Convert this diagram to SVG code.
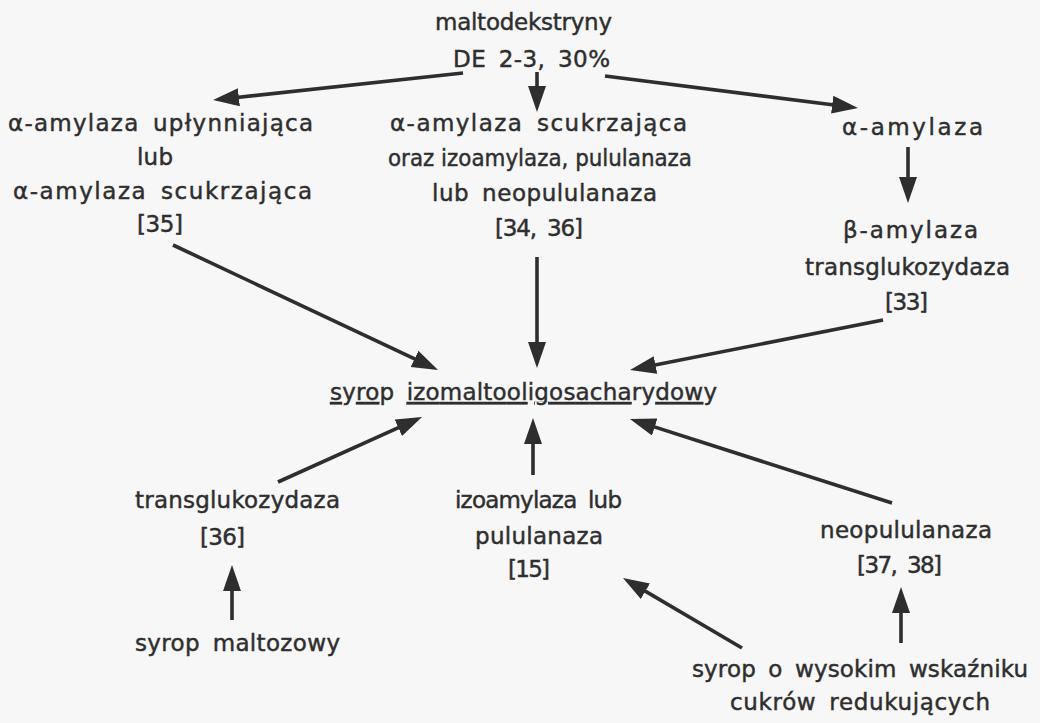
<svg xmlns="http://www.w3.org/2000/svg" width="1040" height="723" viewBox="0 0 1040 723">
<style>
  text { font-family: "DejaVu Sans", "Liberation Sans", sans-serif; font-size: 23px; fill: #2e2e2e; stroke: #2e2e2e; stroke-width: 0.45; text-anchor: middle; word-spacing: 5px; }
  .tight { word-spacing: 0; }
  .u { text-decoration: underline; }
  .conn line { stroke: #2e2e2e; stroke-width: 3.6; fill: none; marker-end: url(#ah); }
</style>
<defs>
  <marker id="ah" markerUnits="userSpaceOnUse" markerWidth="28" markerHeight="20" refX="16" refY="9" orient="auto">
    <path d="M0,0 L26,9 L0,18 Z" fill="#2e2e2e"/>
  </marker>
</defs>
<rect x="0" y="0" width="1040" height="723" fill="#f7f7f7"/>

<g id="maltodekstryny">
  <text x="523.5" y="30" textLength="177">maltodekstryny</text>
  <text x="531.5" y="67" textLength="157">DE 2-3, 30%</text>
</g>

<g id="left-top">
  <text x="160.5" y="131" textLength="305">α-amylaza upłynniająca</text>
  <text x="155" y="165" textLength="36">lub</text>
  <text x="162.5" y="199" textLength="299">α-amylaza scukrzająca</text>
  <text x="160" y="232" textLength="46">[35]</text>
</g>

<g id="center-top">
  <text x="538.5" y="131" textLength="297">α-amylaza scukrzająca</text>
  <text class="tight" x="540" y="166" textLength="304" lengthAdjust="spacingAndGlyphs">oraz izoamylaza, pululanaza</text>
  <text x="544.5" y="201" textLength="225">lub neopululanaza</text>
  <text x="539" y="236" textLength="88">[34, 36]</text>
</g>

<g id="alpha-amylaza">
  <text x="912.5" y="135" textLength="141">α-amylaza</text>
</g>

<g id="beta-amylaza">
  <text x="910.5" y="238" textLength="135">β-amylaza</text>
  <text x="907.5" y="275" textLength="205">transglukozydaza</text>
  <text x="906.5" y="310" textLength="43">[33]</text>
</g>

<g id="syrop-izomaltooligosacharydowy">
  <text x="523.5" y="400" textLength="387"><tspan class="u">s</tspan>y<tspan class="u">ro</tspan>p <tspan class="u">izomaltool</tspan>i<tspan class="u">gosacha</tspan>ry<tspan class="u">dow</tspan>y</text>
</g>

<g id="transglukozydaza">
  <text x="237.5" y="508" textLength="205">transglukozydaza</text>
  <text x="222.5" y="545" textLength="45">[36]</text>
</g>

<g id="syrop-maltozowy">
  <text x="237.5" y="651" textLength="205">syrop maltozowy</text>
</g>

<g id="izoamylaza">
  <text x="538.5" y="508" textLength="167">izoamylaza lub</text>
  <text x="539" y="544" textLength="128">pululanaza</text>
  <text x="529" y="577" textLength="42">[15]</text>
</g>

<g id="neopululanaza">
  <text x="906" y="538" textLength="172">neopululanaza</text>
  <text x="899.5" y="573" textLength="85">[37, 38]</text>
</g>

<g id="syrop-wysokim">
  <text x="860" y="677" textLength="336">syrop o wysokim wskaźniku</text>
  <text x="860" y="710" textLength="260">cukrów redukujących</text>
</g>

<g id="connectors" class="conn">
  <line x1="463" y1="73" x2="223" y2="99"/>
  <line x1="537" y1="72" x2="537" y2="102"/>
  <line x1="605" y1="76" x2="848.1" y2="106.7"/>
  <line x1="908" y1="147" x2="908" y2="193"/>
  <line x1="173" y1="245" x2="429" y2="365.7"/>
  <line x1="537" y1="257" x2="537" y2="358"/>
  <line x1="883" y1="320" x2="639.8" y2="368.1"/>
  <line x1="278" y1="482" x2="412.9" y2="421.1"/>
  <line x1="533" y1="475" x2="533" y2="428"/>
  <line x1="892" y1="503" x2="639.5" y2="422.1"/>
  <line x1="232" y1="620" x2="232" y2="575"/>
  <line x1="742" y1="648" x2="631.6" y2="583.1"/>
  <line x1="901" y1="643" x2="901" y2="597"/>
</g>
</svg>
